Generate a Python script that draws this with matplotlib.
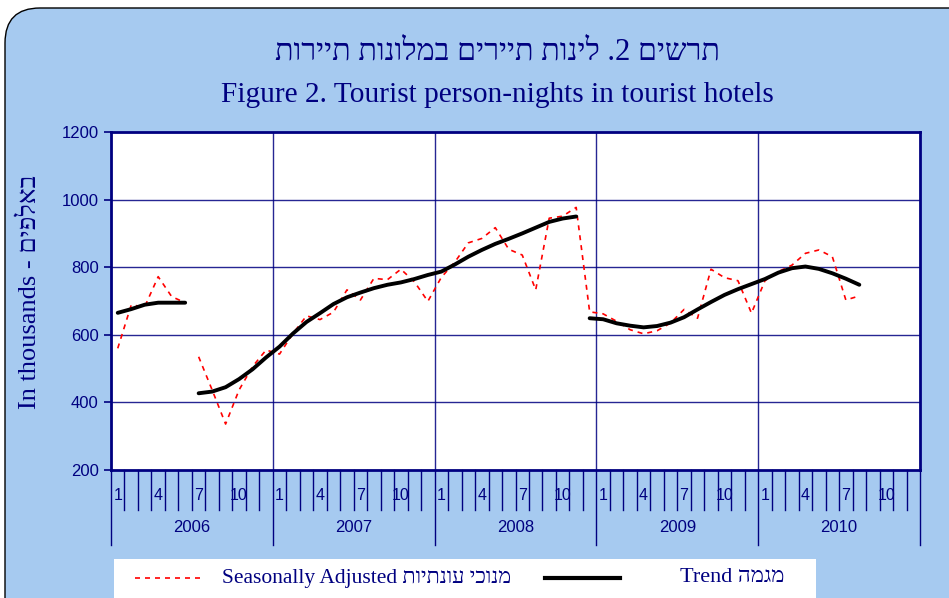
import matplotlib
matplotlib.use("Agg")
import matplotlib.pyplot as plt
import numpy as np
from matplotlib.patches import FancyBboxPatch, Rectangle
from matplotlib.lines import Line2D
from matplotlib.transforms import blended_transform_factory

# monthly data, Jan 2006 - Aug 2010 (thousands)
years = ["2006", "2007", "2008", "2009", "2010"]
month_labels = {0: "1", 3: "4", 6: "7", 9: "10"}

seasonally_adjusted = [
    560, 688, 683, 772, 713, 695, 535, 437, 336, 437, 506, 555,
    543, 604, 656, 645, 667, 733, 703, 767, 763, 794, 757, 699,
    770, 815, 872, 885, 917, 853, 836, 733, 945, 951, 977, 668,
    662, 640, 615, 603, 612, 635, 675, 649, 794, 769, 760, 664,
    760, 787, 806, 841, 851, 831, 703, 715,
]
trend = [
    665, 676, 689, 695, 695, 695, 427, 432, 445, 469, 498, 533,
    565, 604, 638, 664, 691, 711, 725, 738, 748, 755, 765, 777,
    787, 808, 831, 851, 869, 884, 900, 917, 934, 944, 950, 649,
    646, 634, 627, 622, 626, 636, 652, 675, 697, 718, 735, 750,
    765, 784, 797, 802, 795, 782, 766, 748,
]
# the series are drawn in pieces, new piece starts at these indices
sa_breaks = [6]
trend_breaks = [6, 35]

title_he = "תרשים 2. לינות תיירים במלונות תיירות"
title_en = "Figure 2. Tourist person-nights in tourist hotels"
ylabel_en = "In thousands - "
ylabel_he = "באלפים"
legend_sa = ("Seasonally Adjusted ", "מנוכי עונתיות")
legend_trend = ("Trend ", "מגמה")

NAVY = "#000080"
BLUE_BG = "#A6CAF0"
SERIF = ["Liberation Serif", "DejaVu Serif", "DejaVu Sans"]
SANS = ["Liberation Sans", "DejaVu Sans"]


def visual(he):
    # matplotlib has no bidi support: flip hebrew to visual order
    return he[::-1]


def pieces(values, breaks):
    edges = [0] + breaks + [len(values)]
    for a, b in zip(edges[:-1], edges[1:]):
        yield np.arange(a, b), np.array(values[a:b])


fig = plt.figure(figsize=(9.49, 5.98), dpi=100)
fig.patch.set_facecolor("white")

bg = FancyBboxPatch((0.05, -0.5), 10.0, 6.40, boxstyle="round,pad=0,rounding_size=0.35",
                    transform=fig.dpi_scale_trans, facecolor=BLUE_BG, edgecolor="black",
                    linewidth=1.0, zorder=0)
fig.add_artist(bg)

ax = fig.add_axes([111 / 949, 1 - 470 / 598, (920 - 111) / 949, (470 - 132) / 598])
ax.set_facecolor("white")
ax.set_zorder(2)

n_months = 12 * len(years)
ax.set_xlim(-0.5, n_months - 0.5)
ax.set_ylim(200, 1200)

for x, y in pieces(seasonally_adjusted, sa_breaks):
    ax.plot(x, y, color="red", lw=1.2, linestyle=(0, (3, 3)), zorder=3)
for x, y in pieces(trend, trend_breaks):
    ax.plot(x, y, color="black", lw=2.8, solid_capstyle="round", zorder=4)

# grid
for yv in [400, 600, 800, 1000]:
    ax.axhline(yv, color=NAVY, lw=1.0, alpha=0.85, zorder=1)
for k in range(1, len(years)):
    ax.axvline(12 * k - 0.5, color=NAVY, lw=1.0, alpha=0.85, zorder=1)

ax.set_yticks(range(200, 1201, 200))
ax.tick_params(axis="y", direction="out", length=5, width=1.2, color=NAVY,
               labelcolor=NAVY, labelsize=12, pad=4)
for lab in ax.get_yticklabels():
    lab.set_family(SANS)
ax.set_xticks([])
for sp in ax.spines.values():
    sp.set_color(NAVY)
    sp.set_linewidth(2)

# category axis below the plot: month ticks, month numbers, years
tr = blended_transform_factory(ax.transData, ax.transAxes)
short = -40 / 338
long_ = -75 / 338
for b in range(n_months + 1):
    is_year = b % 12 == 0
    ax.add_line(Line2D([b - 0.5, b - 0.5], [0, long_ if is_year else short],
                       transform=tr, color=NAVY, lw=1.0, clip_on=False))
for i in range(n_months):
    if i % 12 in month_labels:
        ax.text(i, -25 / 338, month_labels[i % 12], transform=tr, ha="center", va="center",
                color=NAVY, fontsize=11.5, family=SANS, clip_on=False)
for k, yr in enumerate(years):
    ax.text(12 * k + 5.5, -58 / 338, yr, transform=tr, ha="center", va="center",
            color=NAVY, fontsize=12, family=SANS, clip_on=False)

# titles
fig.text(497 / 949, 1 - 52 / 598, visual(title_he), ha="center", va="center",
         color=NAVY, fontsize=22, family=SERIF)
fig.text(497 / 949, 1 - 95 / 598, title_en, ha="center", va="center",
         color=NAVY, fontsize=21.2, family=SERIF)
fig.text(30 / 949, 1 - 292 / 598, ylabel_en + visual(ylabel_he), rotation=90,
         ha="center", va="center", color=NAVY, fontsize=19, family=SERIF)

# legend box
fig.add_artist(Rectangle((114 / 949, 0), (816 - 114) / 949, (598 - 559) / 598,
                         transform=fig.transFigure, facecolor="white", edgecolor="none", zorder=1))
ly = 1 - 578 / 598
fig.add_artist(Line2D([135 / 949, 200 / 949], [ly, ly], transform=fig.transFigure,
                      color="red", lw=1.2, linestyle=(0, (3, 3)), zorder=2))
fig.text(222 / 949, ly, legend_sa[0] + visual(legend_sa[1]), ha="left", va="center",
         color=NAVY, fontsize=15.5, family=SERIF, zorder=2)
fig.add_artist(Line2D([545 / 949, 620 / 949], [ly, ly], transform=fig.transFigure,
                      color="black", lw=3, zorder=2))
fig.text(680 / 949, ly, legend_trend[0] + visual(legend_trend[1]), ha="left", va="center",
         color=NAVY, fontsize=16, family=SERIF, zorder=2)

fig.savefig("out.png", dpi=100)
